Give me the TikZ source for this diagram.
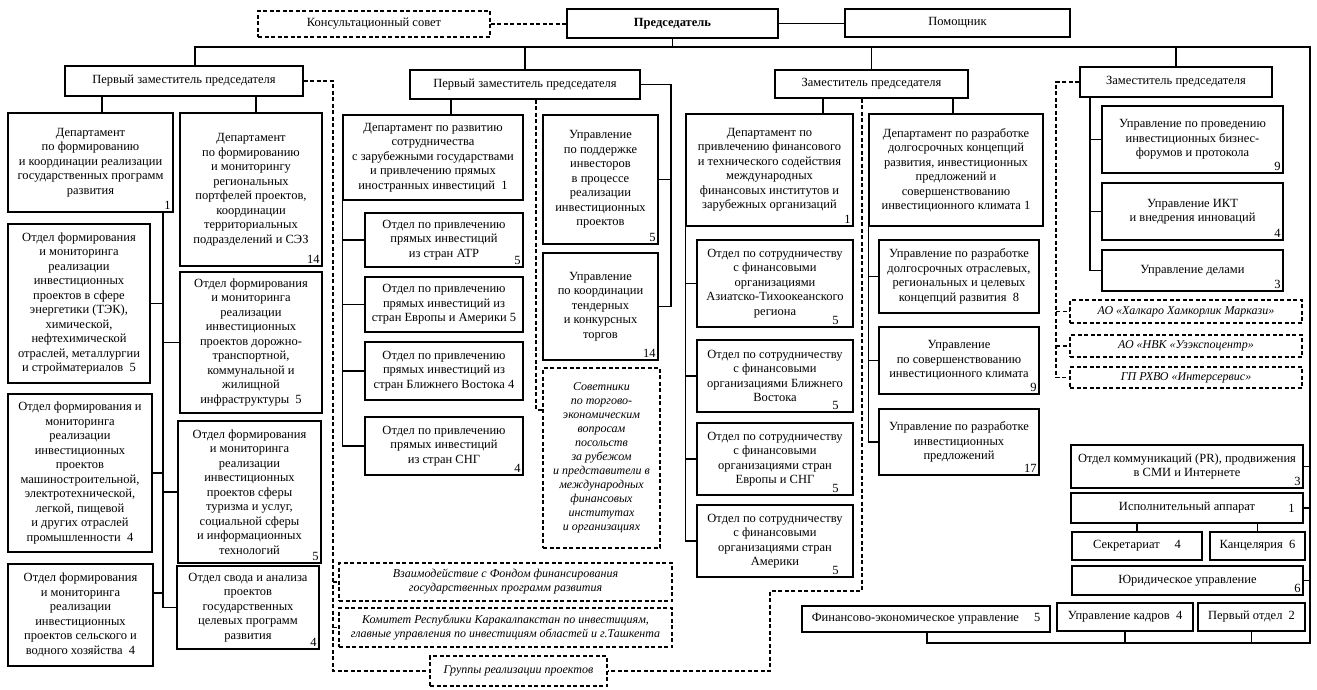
\documentclass[tikz,border=0pt]{standalone}
\usepackage{fontspec}
\setmainfont{Liberation Serif}
\usetikzlibrary{calc}
\newcommand\fs{\fontsize{12.5}{14.5}\selectfont}
\newcommand\fsi{\fontsize{12}{14}\selectfont\itshape}
\newcommand\BX[7][]{\node[box,minimum width={#5-#3},minimum height={#6-#4},#1] (#2) at ({(#3+#5)/2},{(#4+#6)/2}) {#7};}
\tikzset{
 box/.style={draw,line width=1.4pt,inner sep=2pt,align=center,font=\fs},
 dbox/.style={dash pattern=on 4pt off 2.5pt,line width=1.2pt},
 ital/.style={font=\fsi},
 num/.style={inner sep=3pt,font=\fs},
 se/.style={anchor=south east},
 ea/.style={anchor=east},
 ln/.style={line width=1.4pt},
 dl/.style={line width=1.2pt,dash pattern=on 4pt off 2.5pt},
}
\begin{document}
\begin{tikzpicture}[x=1pt,y=-1pt]
\useasboundingbox (0,0) rectangle (1317,690);
\fill[white] (0,0) rectangle (1317,690);
% top
\BX[dbox]{kons}{258}{11}{490}{37}{Консультационный совет}
\BX[font=\fs\bfseries]{pred}{567}{9}{778}{38}{Председатель}
\BX{pom}{845}{9}{1070}{37}{Помощник}
\BX{d1}{65}{66}{303}{96}{Первый заместитель председателя}
\BX{d2}{410}{70}{640}{99}{Первый заместитель председателя}
\BX{d3}{775}{70}{968}{98}{Заместитель председателя}
\BX{d4}{1080}{67}{1272}{97}{Заместитель председателя}
% left
\BX{dA}{8}{113}{173}{212}{Департамент\\по формированию\\и координации реализации\\государственных программ\\развития}
\node[num,se] (dA-n) at (dA.south east) {1};
\BX{dB}{180}{113}{322}{266}{Департамент\\по формированию\\и мониторингу\\региональных\\портфелей проектов,\\координации\\территориальных\\подразделений и СЭЗ}
\node[num,se] (dB-n) at (dB.south east) {14};
\BX{oTEK}{8}{224}{150}{383}{Отдел формирования\\и мониторинга\\реализации\\инвестиционных\\проектов в сфере\\энергетики (ТЭК),\\химической,\\нефтехимической\\отраслей, металлургии\\и стройматериалов\ \ 5}
\BX{oMash}{8}{394}{152}{552}{Отдел формирования и\\мониторинга\\реализации\\инвестиционных\\проектов\\машиностроительной,\\электротехнической,\\легкой, пищевой\\и других отраслей\\промышленности\ \ 4}
\BX{oSel}{8}{564}{153}{666}{Отдел формирования\\и мониторинга\\реализации\\инвестиционных\\проектов сельского и\\водного хозяйства\ \ 4}
\BX{oDor}{180}{272}{322}{413}{Отдел формирования\\и мониторинга\\реализации\\инвестиционных\\проектов дорожно-\\транспортной,\\коммунальной и\\жилищной\\инфраструктуры\ \ 5}
\BX{oTur}{178}{421}{321}{563}{Отдел формирования\\и мониторинга\\реализации\\инвестиционных\\проектов сферы\\туризма и услуг,\\социальной сферы\\и информационных\\технологий}
\node[num,se] (oTur-n) at (oTur.south east) {5};
\BX{oSvod}{177}{566}{319}{649}{Отдел свода и анализа\\проектов\\государственных\\целевых программ\\развития}
\node[num,se] (oSvod-n) at (oSvod.south east) {4};
% dashed middle
\BX[dbox,ital]{vzaim}{339}{563}{672}{601}{Взаимодействие с Фондом финансирования\\государственных программ развития}
\BX[dbox,ital]{kom}{339}{608}{672}{647}{Комитет Республики Каракалпакстан по инвестициям,\\главные управления по инвестициям областей и г.Ташкента}
\BX[dbox,ital]{grp}{430}{656}{607}{686}{Группы реализации проектов}
\BX[dbox,ital]{sov}{543}{368}{660}{548}{Советники\\по торгово-\\экономическим\\вопросам\\посольств\\за рубежом\\и представители в\\международных\\финансовых\\институтах\\и организациях}
% middle
\BX{dC}{343}{115}{523}{200}{Департамент по развитию\\сотрудничества\\с зарубежными государствами\\и привлечению прямых\\иностранных инвестиций\ \ 1}
\BX{oATR}{365}{213}{523}{267}{Отдел по привлечению\\прямых инвестиций\\из стран АТР}
\node[num,se] (oATR-n) at (oATR.south east) {5};
\BX{oEur}{365}{277}{523}{332}{Отдел по привлечению\\прямых инвестиций из\\стран Европы и Америки\ 5}
\BX{oBV}{365}{342}{523}{400}{Отдел по привлечению\\прямых инвестиций из\\стран Ближнего Востока\ 4}
\BX{oSNG}{365}{417}{523}{475}{Отдел по привлечению\\прямых инвестиций\\из стран СНГ}
\node[num,se] (oSNG-n) at (oSNG.south east) {4};
\BX{uPod}{543}{115}{658}{244}{Управление\\по поддержке\\инвесторов\\в процессе\\реализации\\инвестиционных\\проектов}
\node[num,se] (uPod-n) at (uPod.south east) {5};
\BX{uKoor}{543}{253}{658}{360}{Управление\\по координации\\тендерных\\и конкурсных\\торгов}
\node[num,se] (uKoor-n) at (uKoor.south east) {14};
% center right
\BX{dD}{686}{114}{853}{226}{Департамент по\\привлечению финансового\\и технического содействия\\международных\\финансовых институтов и\\зарубежных организаций}
\node[num,se] (dD-n) at (dD.south east) {1};
\BX{oATO}{697}{240}{853}{327}{Отдел по сотрудничеству\\с финансовыми\\организациями\\Азиатско-Тихоокеанского\\региона}
\node[num,se,xshift=-12pt] (oATO-n) at (oATO.south east) {5};
\BX{oBV2}{697}{340}{853}{412}{Отдел по сотрудничеству\\с финансовыми\\организациями Ближнего\\Востока}
\node[num,se,xshift=-12pt] (oBV2-n) at (oBV2.south east) {5};
\BX{oEvr}{697}{423}{853}{495}{Отдел по сотрудничеству\\с финансовыми\\организациями стран\\Европы и СНГ}
\node[num,se,xshift=-12pt] (oEvr-n) at (oEvr.south east) {5};
\BX{oAm}{697}{505}{853}{577}{Отдел по сотрудничеству\\с финансовыми\\организациями стран\\Америки}
\node[num,se,xshift=-12pt] (oAm-n) at (oAm.south east) {5};
\BX{dE}{869}{114}{1043}{226}{Департамент по разработке\\долгосрочных концепций\\развития, инвестиционных\\предложений и\\совершенствованию\\инвестиционного климата\ 1}
\BX{uDolg}{879}{240}{1039}{313}{Управление по разработке\\долгосрочных отраслевых,\\региональных и целевых\\концепций развития\ \ 8}
\BX{uKlim}{879}{327}{1039}{394}{Управление\\по совершенствованию\\инвестиционного климата}
\node[num,se] (uKlim-n) at (uKlim.south east) {9};
\BX{uPredl}{879}{409}{1039}{475}{Управление по разработке\\инвестиционных\\предложений}
\node[num,se] (uPredl-n) at (uPredl.south east) {17};
% right
\BX{uForum}{1102}{106}{1283}{173}{Управление по проведению\\инвестиционных бизнес-\\форумов и протокола}
\node[num,se] (uForum-n) at (uForum.south east) {9};
\BX{uIKT}{1102}{183}{1283}{240}{Управление ИКТ\\и внедрения инноваций}
\node[num,se] (uIKT-n) at (uIKT.south east) {4};
\BX{uDel}{1102}{250}{1283}{291}{Управление делами}
\node[num,se] (uDel-n) at (uDel.south east) {3};
\BX[dbox,ital]{ao1}{1070}{300}{1302}{323}{АО «Халкаро Хамкорлик Маркази»}
\BX[dbox,ital]{ao2}{1070}{335}{1302}{357}{АО «НВК «Узэкспоцентр»}
\BX[dbox,ital]{ao3}{1070}{367}{1302}{388}{ГП РХВО «Интерсервис»}
\BX{oKom}{1071}{445}{1303}{488}{Отдел коммуникаций (PR), продвижения\\в СМИ и Интернете}
\node[num,se] (oKom-n) at (oKom.south east) {3};
\BX{isp}{1071}{493}{1303}{523}{Исполнительный аппарат}
\node[num,ea,xshift=-6pt] (isp-n) at (isp.east) {1};
\BX{secr}{1072}{532}{1202}{560}{Секретариат\hspace{1.2em}4}
\BX{canc}{1210}{532}{1305}{560}{Канцелярия\ \ 6}
\BX{yur}{1072}{566}{1303}{595}{Юридическое управление}
\node[num,se] (yur-n) at (yur.south east) {6};
\BX{fin}{802}{606}{1050}{632}{Финансово-экономическое управление\hspace{1.2em}5}
\BX{kadr}{1057}{603}{1193}{631}{Управление кадров\ \ 4}
\BX{perv}{1198}{603}{1305}{631}{Первый отдел\ \ 2}
% coordinates
\coordinate (busL) at (195,47);
\coordinate (busR) at (1310,47);
\coordinate (bot) at (1310,643);
\coordinate (botL) at (927,643);
\coordinate (vA) at (102,0);
\coordinate (vB) at (256,0);
\coordinate (vL) at (163,0);
\coordinate (vD) at (333,0);
\coordinate (vC) at (451,0);
\coordinate (vR2) at (671,0);
\coordinate (vS) at (536,0);
\coordinate (vD3a) at (823,0);
\coordinate (vD3b) at (953,0);
\coordinate (c1) at (862,591);
\coordinate (c2) at (770,591);
\coordinate (vF) at (1090,0);
\coordinate (vG) at (1056,0);
\coordinate (selS) at ([yshift=22pt]oSel.east);
\coordinate (sovIn) at ([yshift=48pt]sov.west);
% top connectors
\draw[dl] (kons.east) -- (kons.east -| pred.west);
\draw[ln] (pred.east) -- (pred.east -| pom.west);
\draw[ln] (pred.south) -- (pred.south |- busL);
\draw[ln] (busL |- d1.north) -- (busL) -- (busR) -- (bot) -- (botL) -- (fin.south -| botL);
\draw[ln] (d2.north) -- (d2.north |- busL);
\draw[ln] (d3.north) -- (d3.north |- busL);
\draw[ln] (d4.north) -- (d4.north |- busL);
% right bottom
\foreach \n in {oKom,isp,yur} \draw[ln] (\n.east) -- (\n.east -| bot);
\foreach \n in {kadr,perv} \draw[ln] (\n.south) -- (\n.south |- bot);
\draw[ln] (isp.south -| secr.north) -- (secr.north);
\draw[ln] (isp.south -| canc.north) -- (canc.north);
% left
\draw[ln] (d1.south -| vA) -- (dA.north -| vA);
\draw[ln] (d1.south -| vB) -- (dB.north -| vB);
\draw[ln] (dA.south -| vL) -- (vL |- oSvod.west) -- (oSvod.west);
\foreach \n in {oTEK,oMash} \draw[ln] (\n.east) -- (\n.east -| vL);
\draw[ln] (selS) -- (selS -| vL);
\foreach \n in {oDor,oTur} \draw[ln] (\n.west) -- (\n.west -| vL);
\draw[dl] (d1.east) -- (d1.east -| vD) -- (vD |- grp.west) -- (grp.west);
\draw[dl] (vD |- vzaim.west) -- (vzaim.west);
\draw[dl] (vD |- kom.west) -- (kom.west);
% middle
\draw[ln] (d2.south -| vC) -- (dC.north -| vC);
\draw[ln] (dC.south west) -- (dC.south west |- oSNG.west) -- (oSNG.west);
\foreach \n in {oATR,oEur,oBV} \draw[ln] (\n.west) -- (\n.west -| dC.west);
\draw[ln] (d2.east) -- (d2.east -| vR2) -- (vR2 |- uKoor.east) -- (uKoor.east);
\draw[ln] (uPod.east) -- (uPod.east -| vR2);
\draw[dl] (d2.south -| vS) -- (vS |- sovIn) -- (sovIn);
% center right
\draw[ln] (d3.south -| vD3a) -- (dD.north -| vD3a);
\draw[ln] (d3.south -| vD3b) -- (dE.north -| vD3b);
\draw[ln] (dD.south west) -- (dD.south west |- oAm.west) -- (oAm.west);
\foreach \n in {oATO,oBV2,oEvr} \draw[ln] (\n.west) -- (\n.west -| dD.west);
\draw[ln] (dE.south west) -- (dE.south west |- uPredl.west) -- (uPredl.west);
\foreach \n in {uDolg,uKlim} \draw[ln] (\n.west) -- (\n.west -| dE.west);
\draw[dl] (d3.south -| c1) -- (c1) -- (c2) -- (c2 |- grp.east) -- (grp.east);
% right
\draw[ln] (d4.south -| vF) -- (vF |- uDel.west) -- (uDel.west);
\foreach \n in {uForum,uIKT} \draw[ln] (\n.west) -- (\n.west -| vF);
\draw[dl] (d4.west) -- (d4.west -| vG) -- (vG |- ao3.west) -- (ao3.west);
\foreach \n in {ao1,ao2} \draw[dl] (vG |- \n.west) -- (\n.west);
\end{tikzpicture}
\end{document}
